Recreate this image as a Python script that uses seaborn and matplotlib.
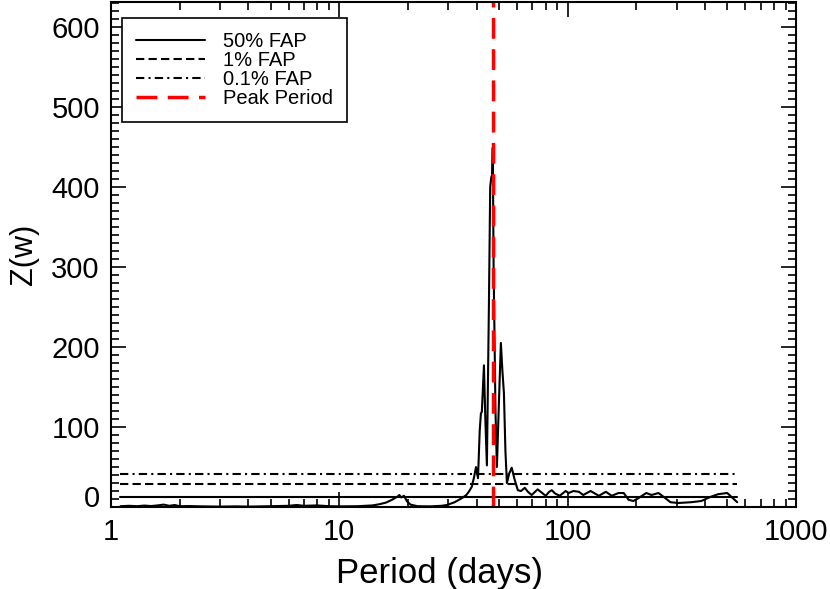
import matplotlib
matplotlib.use('Agg')
import matplotlib.pyplot as plt
import seaborn as sns
import pandas as pd
from matplotlib.ticker import FixedLocator, NullFormatter
from matplotlib.lines import Line2D

# Периодограмма: период (дни) и мощность Z(w)
period = [1.1, 1.2, 1.3, 1.4, 1.5, 1.6, 1.7, 1.8, 1.9, 2.0, 2.2, 2.5, 3.0, 3.5,
          4.0, 5.0, 6.0, 6.5, 7.0, 8.0, 9.0, 10.0, 12.0, 14.0, 15.0, 16.0, 17.0,
          18.0, 18.3, 18.7, 19.2, 19.8, 20.5, 22.0, 25.0, 28.0, 29.6, 32.0, 34.4,
          36.0, 36.9, 38.0, 38.9, 39.7, 40.5, 41.2, 41.7, 42.1, 43.0, 43.6, 44.3,
          45.2, 45.8, 46.3, 46.7, 47.0, 47.4, 48.3, 49.0, 50.0, 51.0, 51.8, 52.6,
          53.4, 54.2, 55.5, 56.9, 58.5, 60.5, 62.5, 64.9, 67.0, 69.6, 72.0, 73.9,
          77.0, 80.2, 83.0, 85.2, 88.0, 92.3, 98.0, 101, 106, 112, 117, 126, 137,
          147, 156, 167, 176, 185, 194, 204, 221, 233, 250, 268, 282, 305, 348,
          385, 421, 456, 500, 553]
power = [1.0, 1.5, 1.0, 1.8, 1.2, 2.0, 3.0, 1.5, 2.5, 1.0, 1.2, 0.8, 0.5, 0.8,
         0.5, 1.0, 1.5, 2.5, 1.5, 2.0, 1.0, 0.8, 1.0, 2.0, 3.5, 5.5, 9.0,
         13.0, 15.0, 12.0, 14.0, 7.0, 3.0, 1.0, 0.8, 1.5, 2.5, 6.0, 11.0,
         15.0, 19.0, 25.0, 37.0, 50.0, 36.0, 95.0, 117.0, 119.0, 177.0, 110.0, 52.0,
         250.0, 400.0, 412.0, 415.0, 449.0, 300.0, 120.0, 50.0, 130.0, 205.0, 170.0, 142.0,
         70.0, 30.0, 42.0, 49.0, 35.0, 21.0, 20.0, 24.0, 19.0, 15.0, 19.0, 22.0,
         18.0, 14.0, 19.0, 21.0, 17.0, 14.0, 20.0, 17.5, 20.0, 19.0, 15.0, 20.0, 14.0,
         19.0, 14.0, 17.5, 17.5, 9.0, 7.5, 11.0, 17.5, 15.0, 17.5, 11.0, 6.0, 5.0, 6.0,
         7.5, 12.5, 16.0, 17.5, 6.0]

# Уровни ложной тревоги и пиковый период
fap_labels = ['50% FAP', '1% FAP', '0.1% FAP']
fap_levels = [13.0, 28.5, 41.0]
fap_styles = ['-', (0, (4, 2)), (0, (4, 2, 1, 2))]
peak_period = 47.0

x_ticks = [1, 10, 100, 1000]
y_ticks = [0, 100, 200, 300, 400, 500, 600]

df = pd.DataFrame({'period': period, 'power': power})

sns.set_style('ticks')
plt.rcParams['font.family'] = ['Liberation Sans', 'DejaVu Sans']
plt.rcParams['text.color'] = 'black'
plt.rcParams['axes.labelcolor'] = 'black'
plt.rcParams['xtick.color'] = 'black'
plt.rcParams['ytick.color'] = 'black'

fig = plt.figure(figsize=(8.3, 5.89), dpi=100)
ax = fig.add_axes([0.1337, 0.1392, 0.8253, 0.8574])

sns.lineplot(data=df, x='period', y='power', color='black', linewidth=1.5, ax=ax)

x0, x1 = period[0], period[-1]
for lvl, ls in zip(fap_levels, fap_styles):
    ax.plot([x0, x1], [lvl, lvl], color='black', linestyle=ls, linewidth=1.5)
ax.axvline(peak_period, color='red', linestyle=(0, (6, 3)), linewidth=2.5)

ax.set_xscale('log')
ax.set_xlim(1, 1000)
ax.set_ylim(0, 631)
ax.xaxis.set_major_locator(FixedLocator(x_ticks))
ax.set_xticklabels([str(t) for t in x_ticks])
ax.xaxis.set_minor_locator(FixedLocator([m * d for d in [1, 10, 100] for m in range(2, 10)]))
ax.xaxis.set_minor_formatter(NullFormatter())
ax.yaxis.set_major_locator(FixedLocator(y_ticks))
ax.set_yticklabels([str(t) for t in y_ticks])
ax.yaxis.set_minor_locator(FixedLocator(list(range(10, 631, 10))))

ax.tick_params(which='both', direction='in', top=True, right=True, width=1.2,
               labelsize=21, pad=8)
ax.tick_params(which='major', length=11)
ax.tick_params(which='minor', length=6)
for s in ax.spines.values():
    s.set_linewidth(1.5)
    s.set_color('black')

# подпись "0" приподнята над нижней осью, как в оригинале
ax.get_yticklabels()[0].set_va('baseline')

ax.set_xlabel('Period (days)', fontsize=25, labelpad=8)
ax.xaxis.label.set_x(0.48)
ax.set_ylabel('Z(w)', fontsize=22, labelpad=9)

handles = [Line2D([], [], color='black', linestyle=ls, linewidth=1.5) for ls in fap_styles]
handles.append(Line2D([], [], color='red', linestyle=(0, (6, 3)), linewidth=2.5))
leg = ax.legend(handles, fap_labels + ['Peak Period'], loc='upper left',
                bbox_to_anchor=(0.016, 0.968), borderaxespad=0, fontsize=14.5,
                frameon=True, fancybox=False, framealpha=1, edgecolor='black',
                handlelength=3.4, handletextpad=0.9, labelspacing=0.0,
                borderpad=0.7)
leg.get_frame().set_linewidth(1.2)

plt.savefig('out.png', dpi=100)
plt.close(fig)
